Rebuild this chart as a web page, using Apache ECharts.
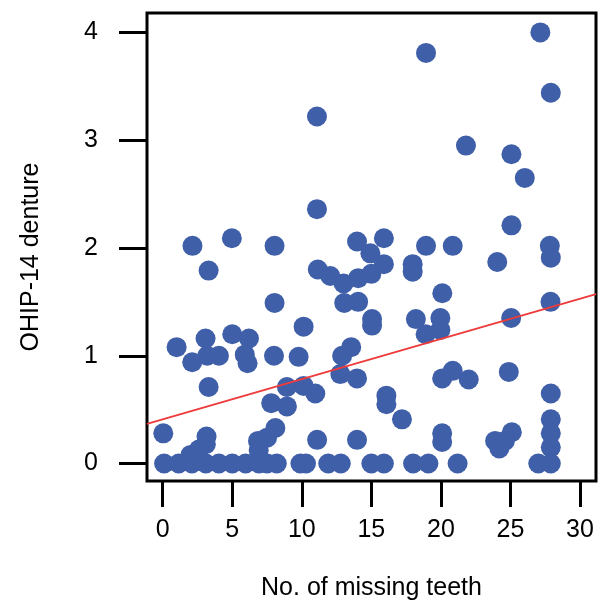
<!DOCTYPE html>
<html>
<head>
<meta charset="utf-8">
<script src="https://cdn.jsdelivr.net/npm/echarts@6/dist/echarts.min.js"></script>
<style>
html,body{margin:0;padding:0;background:#fff;}
#chart{width:603px;height:604px;}
</style>
</head>
<body>
<div id="chart"></div>
<script>
// Number of missing teeth (x) and OHIP-14 denture score (y)
var missingTeeth = [
  27.15, 18.93, 27.9, 11.09, 21.8, 25.07, 26.03, 11.09, 25.07,
  2.14, 4.97, 8.04, 13.97, 15.9, 14.93, 18.93, 20.85, 27.83, 27.9,
  15.9, 17.97, 17.97, 24.05, 3.3, 11.15, 12.05, 13.0, 14.05, 15.0,
  13.05, 14.05, 8.04, 20.1, 27.88, 15.05, 15.05, 18.2, 19.96, 19.96,
  18.9, 25.05, 10.13, 1.0, 3.08, 5.0, 6.2, 2.12, 3.2, 4.04, 5.9, 6.1,
  8.0, 9.77, 12.9, 13.55, 3.3, 12.77, 13.97, 8.93, 10.13, 10.97, 7.8,
  8.93, 20.09, 20.85, 22.0, 24.88, 16.08, 16.08, 17.2, 27.9, 27.9,
  27.9, 27.9, 0.04, 8.1, 7.5, 6.85, 6.9, 2.0, 2.6, 3.1, 3.15, 11.1,
  13.97, 20.09, 20.09, 23.9, 24.2, 25.1, 24.6,
  0.1, 1.15, 2.1, 3.1, 4.04, 5.0, 5.96, 6.92, 7.5, 8.2, 9.9, 10.3,
  11.9, 12.8, 15.0, 15.9, 18.0, 19.1, 21.2, 27.0, 27.9
];
var ohipScore = [
  4.00, 3.81, 3.44, 3.22, 2.95, 2.87, 2.65, 2.36, 2.21,
  2.02, 2.09, 2.02, 2.06, 2.09, 1.95, 2.02, 2.02, 2.02, 1.91,
  1.85, 1.85, 1.78, 1.87, 1.79, 1.80, 1.74, 1.67, 1.72, 1.76,
  1.49, 1.50, 1.49, 1.58, 1.50, 1.34, 1.28, 1.34, 1.35, 1.24,
  1.20, 1.35, 1.27, 1.08, 1.16, 1.20, 1.16, 0.94, 1.00, 1.00, 1.01, 0.93,
  1.00, 0.99, 1.00, 1.08, 0.71, 0.83, 0.79, 0.71, 0.72, 0.65, 0.56,
  0.53, 0.79, 0.86, 0.78, 0.85, 0.63, 0.55, 0.41, 0.65, 0.41,
  0.28, 0.15, 0.28, 0.33, 0.24, 0.21, 0.12, 0.08, 0.13, 0.18, 0.25, 0.22,
  0.22, 0.28, 0.20, 0.21, 0.14, 0.29, 0.21,
  0, 0, 0, 0, 0, 0, 0, 0, 0, 0, 0, 0,
  0, 0, 0, 0, 0, 0, 0, 0, 0
];
// Fitted regression line
var fitIntercept = 0.41;
var fitSlope = 0.0373;
// Tick labels
var xTicks = [0, 5, 10, 15, 20, 25, 30];
var yTicks = [0, 1, 2, 3, 4];
var xTitle = 'No. of missing teeth';
var yTitle = 'OHIP-14 denture';

var xMin = -1.13, xMax = 31.15, yMin = -0.162, yMax = 4.18;

var points = missingTeeth.map(function (x, i) { return [x, ohipScore[i]]; });
var fitLine = [xMin, xMax].map(function (x) { return [x, fitIntercept + fitSlope * x]; });

var font = '"Liberation Sans", Arial, sans-serif';
var chart = echarts.init(document.getElementById('chart'), null, {renderer: 'canvas'});
chart.setOption({
  animation: false,
  backgroundColor: '#fff',
  grid: {
    show: true, left: 147, right: 7, top: 13, bottom: 123,
    containLabel: false, outerBoundsMode: 'none',
    borderColor: '#000', borderWidth: 3, backgroundColor: 'transparent'
  },
  xAxis: {
    type: 'value', min: xMin, max: xMax, position: 'bottom',
    axisLine: {show: false, onZero: false},
    splitLine: {show: false},
    axisTick: {show: true, inside: false, length: 26, lineStyle: {color: '#000', width: 3}, customValues: xTicks},
    axisLabel: {margin: 37, fontSize: 25, color: '#000', fontFamily: font, customValues: xTicks},
    name: xTitle, nameLocation: 'middle', nameGap: 95,
    nameTextStyle: {fontSize: 25, color: '#000', fontFamily: font}
  },
  yAxis: {
    type: 'value', min: yMin, max: yMax, position: 'left',
    axisLine: {show: false, onZero: false},
    splitLine: {show: false},
    axisTick: {show: true, inside: false, length: 28, lineStyle: {color: '#000', width: 3}, customValues: yTicks},
    axisLabel: {margin: 49, fontSize: 25, color: '#000', fontFamily: font, customValues: yTicks}
  },
  graphic: [{
    type: 'text', x: 31, y: 257, rotation: Math.PI / 2,
    style: {text: yTitle, fontSize: 25, fill: '#000', fontFamily: font, textAlign: 'center', textVerticalAlign: 'middle'}
  }],
  series: [{
    type: 'scatter', data: points, symbol: 'circle', symbolSize: 20,
    itemStyle: {color: '#3F5FA8', opacity: 1}, z: 2, clip: true
  }, {
    type: 'line', data: fitLine, showSymbol: false, symbol: 'none',
    lineStyle: {color: '#EE3B3B', width: 2}, z: 3
  }]
});
</script>
</body>
</html>
